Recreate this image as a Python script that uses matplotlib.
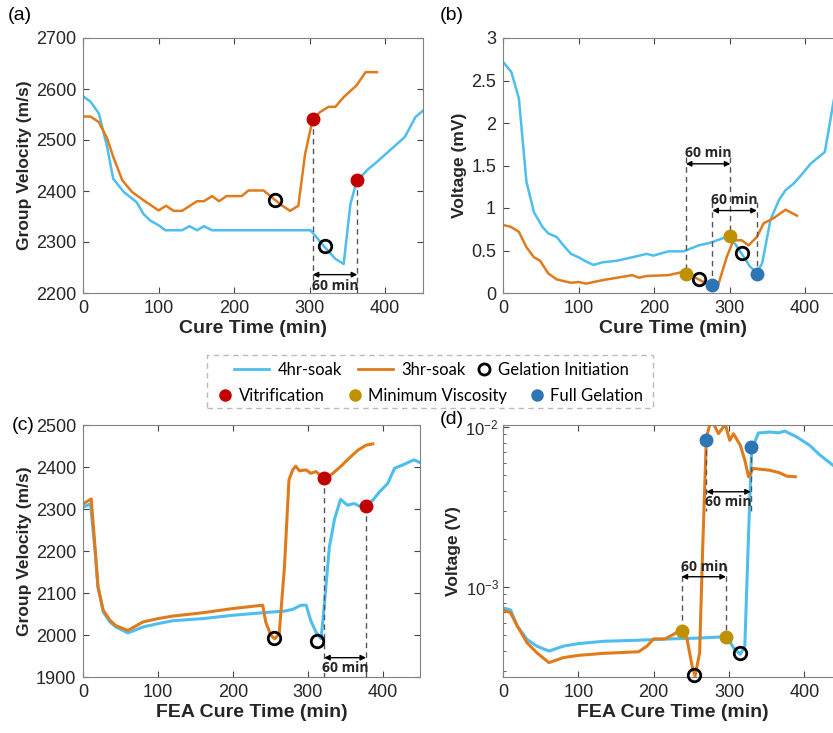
import numpy as np
import matplotlib
matplotlib.use("Agg")
import matplotlib.pyplot as plt
from matplotlib.lines import Line2D
from matplotlib.patches import Rectangle

plt.rcParams['font.family'] = ['Liberation Sans', 'DejaVu Sans']

BLUE = '#4DBEEE'
ORANGE = '#E07B1C'
RED = '#C00000'
GOLD = '#BF9000'
FULLBLUE = '#2E75B6'

# ---- panel (a): group velocity vs cure time
a_t4 = [0, 10, 21, 32, 40, 54, 71, 80, 89, 100, 109, 131, 141, 151, 160, 171, 301, 307, 318, 334, 345, 354, 362, 376, 389, 426, 440, 452]
a_v4 = [2586, 2575, 2552, 2486, 2424, 2398, 2378, 2355, 2342, 2333, 2323, 2323, 2331, 2323, 2331, 2323, 2323, 2313, 2293, 2267, 2257, 2375, 2418, 2441, 2457, 2506, 2545, 2560]
a_t3 = [0, 10, 21, 32, 40, 52, 65, 80, 100, 110, 120, 131, 151, 160, 171, 180, 190, 210, 219, 239, 248, 263, 274, 285, 294, 304, 314, 325, 334, 345, 362, 374, 389]
a_v3 = [2546, 2546, 2535, 2503, 2467, 2421, 2398, 2382, 2362, 2371, 2361, 2361, 2380, 2380, 2390, 2380, 2390, 2390, 2401, 2401, 2390, 2372, 2361, 2371, 2473, 2541, 2555, 2565, 2565, 2584, 2607, 2633, 2633]
a_gel = [(254, 2383), (320, 2292)]
a_vit = [(304, 2541), (363, 2421)]

# ---- panel (b): voltage (mV) vs cure time
b_t4 = [0, 11, 21, 31, 41, 52, 60, 71, 80, 90, 100, 110, 120, 131, 151, 171, 190, 199, 219, 239, 259, 274, 296, 307, 316, 327, 336, 343, 354, 365, 374, 385, 396, 407, 426, 437, 452]
b_v4 = [2.72, 2.60, 2.29, 1.31, 0.95, 0.78, 0.70, 0.66, 0.56, 0.46, 0.42, 0.37, 0.33, 0.36, 0.38, 0.42, 0.46, 0.44, 0.49, 0.49, 0.56, 0.59, 0.66, 0.58, 0.46, 0.31, 0.24, 0.35, 0.86, 1.09, 1.21, 1.29, 1.40, 1.52, 1.66, 2.23, 2.9]
b_t3 = [0, 10, 21, 31, 41, 49, 60, 71, 90, 100, 110, 131, 151, 171, 180, 190, 219, 239, 248, 259, 274, 285, 296, 305, 316, 325, 336, 345, 358, 374, 389]
b_v3 = [0.80, 0.78, 0.72, 0.54, 0.42, 0.38, 0.23, 0.16, 0.12, 0.13, 0.11, 0.15, 0.18, 0.21, 0.18, 0.20, 0.21, 0.25, 0.21, 0.16, 0.09, 0.10, 0.42, 0.62, 0.62, 0.56, 0.66, 0.82, 0.88, 0.98, 0.91]
b_minvis = [(242, 0.227), (301, 0.667)]
b_gel = [(259, 0.17), (316, 0.47)]
b_full = [(277, 0.09), (336, 0.227)]

# ---- panel (c): FEA group velocity
c_t4 = [0, 10, 16, 20, 27, 36, 44, 60, 80, 100, 120, 160, 200, 240, 269, 280, 291, 298, 304, 311, 318, 322, 329, 336, 344, 353, 362, 369, 378, 387, 396, 407, 416, 427, 442, 452]
c_v4 = [2304, 2312, 2202, 2115, 2055, 2031, 2019, 2005, 2019, 2027, 2034, 2039, 2047, 2053, 2057, 2061, 2071, 2071, 2035, 2007, 1991, 2067, 2210, 2277, 2323, 2309, 2313, 2307, 2307, 2321, 2341, 2361, 2397, 2405, 2417, 2409]
c_t3 = [0, 11, 16, 20, 27, 36, 44, 60, 80, 100, 120, 160, 200, 220, 240, 244, 251, 256, 262, 269, 275, 280, 284, 289, 298, 304, 311, 322, 331, 344, 353, 367, 378, 387]
c_v3 = [2312, 2324, 2210, 2115, 2059, 2035, 2022, 2011, 2031, 2039, 2045, 2053, 2063, 2067, 2071, 2031, 1999, 1991, 2003, 2162, 2369, 2393, 2402, 2391, 2393, 2385, 2389, 2373, 2381, 2401, 2417, 2440, 2452, 2455]
c_gel = [(255, 1993), (313, 1986)]
c_vit = [(322, 2373), (378, 2307)]

# ---- panel (d): FEA voltage (V), log scale
d_t4 = [0, 10, 19, 32, 45, 61, 80, 100, 133, 178, 222, 266, 297, 306, 315, 321, 326, 330, 339, 354, 366, 374, 390, 407, 421, 438, 452]
d_v4 = [7.4e-4, 7.2e-4, 5.7e-4, 4.7e-4, 4.27e-4, 3.98e-4, 4.27e-4, 4.43e-4, 4.58e-4, 4.65e-4, 4.74e-4, 4.81e-4, 4.9e-4, 4.17e-4, 3.8e-4, 4.27e-4, 2.17e-3, 7.16e-3, 9.18e-3, 9.31e-3, 9.2e-3, 9.44e-3, 8.67e-3, 7.69e-3, 6.67e-3, 5.77e-3, 5.3e-3]
d_t3 = [0, 10, 19, 32, 45, 61, 80, 100, 133, 180, 191, 200, 215, 226, 235, 244, 251, 255, 261, 265, 270, 275, 279, 286, 295, 301, 306, 315, 321, 326, 332, 354, 366, 377, 388]
d_v3 = [7.2e-4, 6.9e-4, 5.7e-4, 4.48e-4, 3.88e-4, 3.37e-4, 3.62e-4, 3.74e-4, 3.85e-4, 3.94e-4, 4.27e-4, 4.74e-4, 4.74e-4, 5.05e-4, 5.36e-4, 4.81e-4, 3.21e-4, 2.78e-4, 3.88e-4, 1.71e-3, 8.67e-3, 1.05e-2, 1.06e-2, 9.09e-3, 1.04e-2, 8.26e-3, 9.09e-3, 7.69e-3, 6.21e-3, 4.89e-3, 5.51e-3, 5.37e-3, 5.2e-3, 4.93e-3, 4.89e-3]
d_minvis = [(237, 5.3e-4), (296, 4.89e-4)]
d_gel = [(254, 2.8e-4), (314, 3.85e-4)]
d_full = [(270, 8.34e-3), (329, 7.52e-3)]

fig = plt.figure(figsize=(8.33, 7.33), dpi=100)
W, H = 833.0, 733.0


def make_ax(left, top, right, bottom):
    return fig.add_axes([left / W, 1 - bottom / H, (right - left) / W, (bottom - top) / H])


def style(ax, xlabel, ylabel):
    ax.set_xlim(0, 450)
    ax.set_xticks([0, 100, 200, 300, 400])
    ax.tick_params(direction='in', top=True, right=True, length=4, color='#444444',
                   labelsize=13, labelcolor='#262626', pad=5)
    ax.tick_params(which='minor', direction='in', right=True, color='#444444')
    for s in ax.spines.values():
        s.set_color('#808080')
        s.set_linewidth(0.8)
    ax.set_xlabel(xlabel, fontsize=14, fontweight='bold', color='#262626', labelpad=2)
    ax.set_ylabel(ylabel, fontsize=12.5, fontweight='bold', color='#262626', labelpad=3)


def dots(ax, pts, color, open_=False):
    t = [p[0] for p in pts]
    v = [p[1] for p in pts]
    if open_:
        ax.plot(t, v, 'o', ms=9, mfc='none', mec='black', mew=2, zorder=5, clip_on=False)
    else:
        ax.plot(t, v, 'o', ms=9, color=color, zorder=5, clip_on=False)


def vdash(ax, t, y0, y1):
    ax.plot([t, t], [y0, y1], ls=(0, (4, 3)), color='#555555', lw=1, zorder=3)


def span(ax, t0, t1, y, ty, va):
    ax.annotate('', xy=(t0, y), xytext=(t1, y),
                arrowprops=dict(arrowstyle='<|-|>', color='black', lw=1, mutation_scale=8,
                                shrinkA=0, shrinkB=0))
    ax.text((t0 + t1) / 2, ty, '60 min', ha='center', va=va, fontsize=10,
            fontweight='bold', family=['Open Sans', 'DejaVu Sans'], color='#262626')


# (a)
ax = make_ax(83, 38, 423, 293)
ax.plot(a_t4, a_v4, color=BLUE, lw=1.8)
ax.plot(a_t3, a_v3, color=ORANGE, lw=1.8)
ax.set_ylim(2200, 2700)
style(ax, 'Cure Time (min)', 'Group Velocity (m/s)')
for t, v in a_vit:
    vdash(ax, t, v, 2200)
span(ax, a_vit[0][0], a_vit[1][0], 2236, 2228, 'top')
dots(ax, a_gel, None, True)
dots(ax, a_vit, RED)
fig.text(8 / W, 1 - 16 / H, '(a)', fontsize=14, va='center')

# (b)
ax = make_ax(503, 38, 843, 293)
ax.plot(b_t4, b_v4, color=BLUE, lw=1.8)
ax.plot(b_t3, b_v3, color=ORANGE, lw=1.8)
ax.set_ylim(0, 3)
ax.set_yticks([0, 0.5, 1, 1.5, 2, 2.5, 3])
ax.set_yticklabels(['0', '0.5', '1', '1.5', '2', '2.5', '3'])
style(ax, 'Cure Time (min)', 'Voltage (mV)')
vdash(ax, b_minvis[0][0], 1.6, b_minvis[0][1])
vdash(ax, b_minvis[1][0], 1.6, b_minvis[1][1])
vdash(ax, b_full[0][0], 1.07, b_full[0][1])
vdash(ax, b_full[1][0], 1.07, b_full[1][1])
span(ax, b_minvis[0][0], b_minvis[1][0], 1.52, 1.56, 'bottom')
span(ax, b_full[0][0], b_full[1][0], 0.97, 1.01, 'bottom')
dots(ax, b_gel, None, True)
dots(ax, b_minvis, GOLD)
dots(ax, b_full, FULLBLUE)
fig.text(440 / W, 1 - 16 / H, '(b)', fontsize=14, va='center')

# (c)
ax = make_ax(83, 425, 420, 677)
ax.plot(c_t4, c_v4, color=BLUE, lw=2.2)
ax.plot(c_t3, c_v3, color=ORANGE, lw=2.2)
ax.set_ylim(1900, 2500)
style(ax, 'FEA Cure Time (min)', 'Group Velocity (m/s)')
for t, v in c_vit:
    vdash(ax, t, v, 1900)
span(ax, c_vit[0][0], c_vit[1][0], 1946, 1938, 'top')
dots(ax, c_gel, None, True)
dots(ax, c_vit, RED)
fig.text(12 / W, 1 - 425 / H, '(c)', fontsize=14, va='center')

# (d)
ax = make_ax(503, 425, 842, 677)
ax.plot(d_t4, d_v4, color=BLUE, lw=2.2)
ax.plot(d_t3, d_v3, color=ORANGE, lw=2.2)
ax.set_yscale('log')
ax.set_ylim(2.74e-4, 1.03e-2)
style(ax, 'FEA Cure Time (min)', 'Voltage (V)')
ax.tick_params(axis='y', which='major', labelsize=12, pad=3)
ax.tick_params(axis='y', which='minor', labelleft=False)
vdash(ax, d_minvis[0][0], 1.35e-3, d_minvis[0][1])
vdash(ax, d_minvis[1][0], 1.35e-3, d_minvis[1][1])
vdash(ax, d_full[0][0], d_full[0][1], 3.0e-3)
vdash(ax, d_full[1][0], d_full[1][1], 3.0e-3)
span(ax, d_minvis[0][0], d_minvis[1][0], 1.16e-3, 1.2e-3, 'bottom')
span(ax, d_full[0][0], d_full[1][0], 3.94e-3, 3.75e-3, 'top')
dots(ax, d_gel, None, True)
dots(ax, d_minvis, GOLD)
dots(ax, d_full, FULLBLUE)
fig.text(440 / W, 1 - 420 / H, '(d)', fontsize=14, va='center')

# shared legend: two rows, one dashed frame around both
leg_font = {'family': ['Lato', 'DejaVu Sans'], 'size': 12}
row1_lines = [Line2D([], [], color=BLUE, lw=2), Line2D([], [], color=ORANGE, lw=2)]
row1_labels = ['4hr-soak', '3hr-soak']
gel_handle = [Line2D([], [], ls='none', marker='o', ms=8, mfc='none', mec='black', mew=2)]
row2 = [Line2D([], [], ls='none', marker='o', ms=8, color=RED),
        Line2D([], [], ls='none', marker='o', ms=8, color=GOLD),
        Line2D([], [], ls='none', marker='o', ms=8, color=FULLBLUE)]
row2_labels = ['Vitrification', 'Minimum Viscosity', 'Full Gelation']

common = dict(loc='center', prop=leg_font, frameon=False, borderpad=0, borderaxespad=0)
fig.legend(row1_lines, row1_labels, ncol=2, bbox_to_anchor=(350 / W, 1 - 370 / H),
           handlelength=2.1, handletextpad=0.5, columnspacing=1.0, **common)
fig.legend(gel_handle, ['Gelation Initiation'], bbox_to_anchor=(553 / W, 1 - 370 / H),
           handlelength=0.8, handletextpad=0.4, **common)
fig.legend(row2, row2_labels, ncol=3, bbox_to_anchor=(431 / W, 1 - 396 / H),
           handlelength=0.8, handletextpad=0.4, columnspacing=1.4, **common)
fig.add_artist(Rectangle((207 / W, 1 - 408 / H), 446 / W, 53 / H, transform=fig.transFigure,
                         fill=False, ls=(0, (4, 3)), ec='#BBBBBB', lw=1))

fig.savefig('out.png', dpi=100)
